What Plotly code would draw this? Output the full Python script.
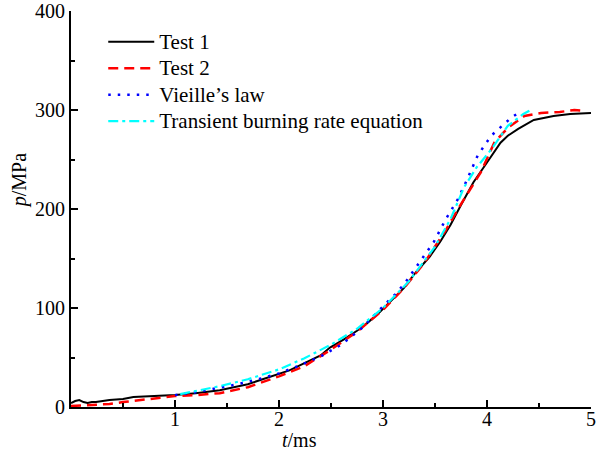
import plotly.graph_objects as go

# Test 1 (measured)
t_test1 = [0, 0.04, 0.08, 0.12, 0.16, 0.2, 0.24, 0.3, 0.37, 0.5, 0.6, 0.8, 1.0, 1.2, 1.43,
           1.7, 1.91, 2.1, 2.24, 2.4, 2.49, 2.62, 2.75, 2.85, 2.95, 3.07, 3.2, 3.3, 3.45,
           3.55, 3.65, 3.75, 3.87, 4.0, 4.07, 4.13, 4.2, 4.3, 4.45, 4.64, 4.8, 5.0]
p_test1 = [4, 6, 7, 5, 4, 5, 5, 6, 7, 8, 10, 11, 12, 14, 17,
           23, 30, 37, 44, 52, 60, 68, 77, 85, 94, 107, 120, 134, 152,
           167, 184, 204, 227, 247, 258, 267, 274, 281, 290, 294, 296, 297]

# Test 2 (measured)
t_test2 = [0, 0.2, 0.37, 0.5, 0.66, 0.85, 1.0, 1.2, 1.43, 1.7, 2.0, 2.24, 2.5, 2.75, 3.0,
           3.2, 3.4, 3.6, 3.75, 3.94, 4.07, 4.2, 4.36, 4.52, 4.7, 4.84, 4.95]
p_test2 = [1, 2, 3, 5, 7, 9, 11, 12, 14, 20, 31, 41, 58, 76, 98,
           120, 146, 178, 205, 237, 267, 282, 294, 297, 298, 300, 299]

# Vieille's law (simulation)
t_vieille = [1.0, 1.2, 1.4, 1.6, 1.8, 2.0, 2.2, 2.4, 2.6, 2.8, 3.02, 3.12, 3.21, 3.36,
             3.49, 3.6, 3.72, 3.81, 3.91, 4.04, 4.12, 4.23, 4.33]
p_vieille = [12, 15, 19, 23, 28, 34, 42, 51, 63, 80, 104, 114, 125, 147,
             167, 189, 210, 230, 254, 274, 282, 292, 299]

# Transient burning rate equation (simulation)
t_transient = [1.05, 1.2, 1.43, 1.7, 2.0, 2.24, 2.5, 2.75, 3.0, 3.25, 3.5, 3.65, 3.78,
               3.9, 4.04, 4.2, 4.35, 4.42]
p_transient = [13, 16, 21, 28, 38, 49, 63, 79, 100, 127, 162, 190, 222,
               242, 260, 284, 296, 300]

series_names = ["Test 1", "Test 2", "Vieille\u2019s law", "Transient burning rate equation"]

x_ticks = [1, 2, 3, 4, 5]
y_ticks = [0, 100, 200, 300, 400]

FONT = "Liberation Serif, Times New Roman, serif"


def leg(name):
    return '<span style="font-size:21px">' + name + '</span>'


fig = go.Figure()
fig.add_trace(go.Scatter(x=t_test1, y=p_test1, mode="lines", name=leg(series_names[0]),
                         line=dict(color="black", width=2)))
fig.add_trace(go.Scatter(x=t_test2, y=p_test2, mode="lines", name=leg(series_names[1]),
                         line=dict(color="#ff0000", width=2.5, dash="10px,6px")))
fig.add_trace(go.Scatter(x=t_vieille, y=p_vieille, mode="lines", name=leg(series_names[2]),
                         line=dict(color="#0000ff", width=2.5, dash="2.5px,7px")))
fig.add_trace(go.Scatter(x=t_transient, y=p_transient, mode="lines",
                         name=leg(series_names[3]),
                         line=dict(color="#00ffff", width=2.2, dash="10px,4px,3px,4px")))

axis_common = dict(showline=True, linecolor="black", linewidth=2, ticks="inside",
                   ticklen=7, tickwidth=2, tickcolor="black", showgrid=False,
                   zeroline=False, ticklabeloverflow="allow", automargin=False,
                   tickfont=dict(family=FONT, size=20, color="black"))

fig.update_xaxes(range=[0, 5], tickvals=x_ticks, ticktext=[str(v) for v in x_ticks],
                 ticklabelstandoff=-7,
                 minor=dict(ticks="inside", dtick=0.5, ticklen=4, tickwidth=2,
                            tickcolor="black", showgrid=False),
                 **axis_common)
fig.update_yaxes(range=[0, 400], tickvals=y_ticks, ticktext=[str(v) for v in y_ticks],
                 minor=dict(ticks="inside", dtick=50, ticklen=4, tickwidth=2,
                            tickcolor="black", showgrid=False),
                 **axis_common)

fig.update_layout(
    width=610, height=460,
    margin=dict(l=71, r=19, t=11, b=53),
    paper_bgcolor="white", plot_bgcolor="white",
    font=dict(family=FONT, size=20, color="black"),
    showlegend=True,
    legend=dict(x=0.062, y=0.968, xanchor="left", yanchor="top",
                bgcolor="rgba(0,0,0,0)", borderwidth=0, itemwidth=46,
                font=dict(family=FONT, size=18, color="black"),
                tracegroupgap=0),
    annotations=[
        dict(text="<i>t</i>/ms", x=0.44, y=-0.05, xref="paper", yref="paper",
             xanchor="center", yanchor="top", showarrow=False,
             font=dict(family=FONT, size=20)),
        dict(text="<i>p</i>/MPa", x=-0.1, y=0.57, xref="paper", yref="paper",
             xanchor="center", yanchor="middle", showarrow=False, textangle=-90,
             font=dict(family=FONT, size=20)),
    ],
)

fig.write_html("out.html", config={"displayModeBar": False},
               post_script="document.body.style.margin='0';document.body.style.padding='0';")
